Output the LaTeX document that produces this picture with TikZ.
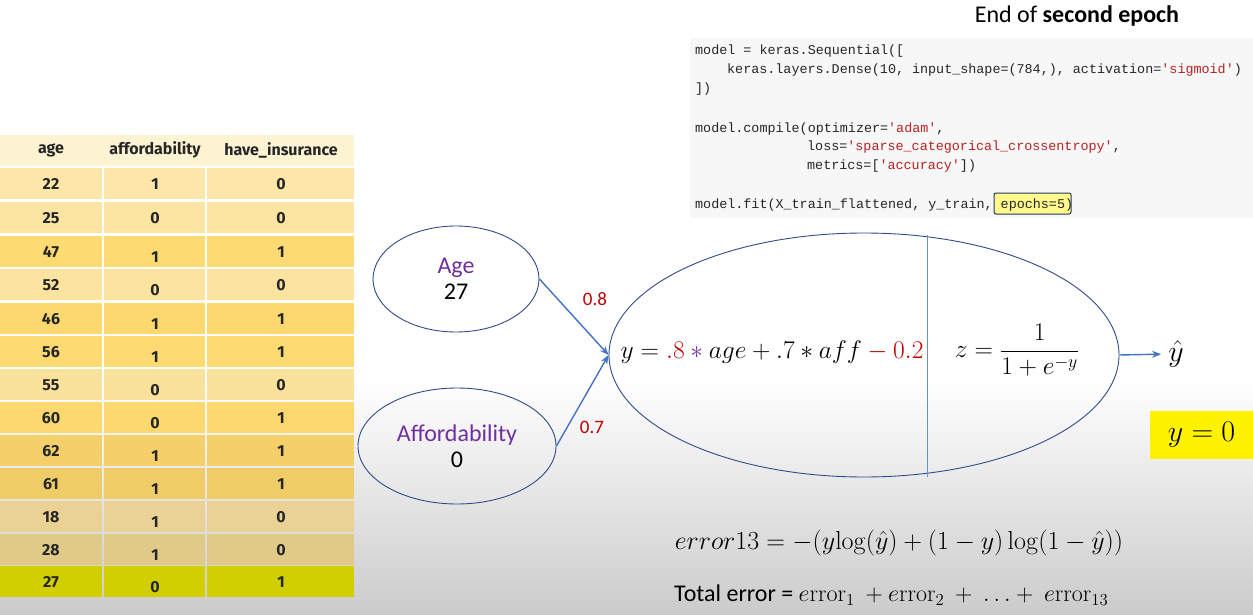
\RequirePackage{fix-cm}
\documentclass[tikz,border=0pt]{standalone}
\usepackage[no-math]{fontspec}
\setmainfont{Carlito}
\setmonofont{Liberation Mono}
\newfontfamily\tabfont{Fira Sans}
\usetikzlibrary{shapes.geometric,arrows.meta}
\definecolor{bgbot}{HTML}{CBCBCB}
\definecolor{hdr}{HTML}{FCF3D3}
\definecolor{rA}{HTML}{FCE7A8}
\definecolor{rA2}{HTML}{FCE5A3}
\definecolor{rB}{HTML}{FDDA72}
\definecolor{rC}{HTML}{FCE39F}
\definecolor{rB2}{HTML}{FDD86E}
\definecolor{rC2}{HTML}{FBE29C}
\definecolor{rD}{HTML}{F5D06A}
\definecolor{rE}{HTML}{EFCC66}
\definecolor{rF}{HTML}{E9D294}
\definecolor{rG}{HTML}{E0CA88}
\definecolor{rH}{HTML}{D2CF00}
\definecolor{codebg}{HTML}{F7F7F7}
\definecolor{str}{HTML}{BA2121}
\definecolor{edgeblue}{HTML}{4472C4}
\definecolor{ellblue}{HTML}{2F4B8C}
\definecolor{purp}{HTML}{7030A0}
\definecolor{wred}{HTML}{C00000}
\definecolor{boxblue}{HTML}{1F3864}
\tikzset{
  cell/.style={font=\tabfont\bfseries\fontsize{16}{18}\selectfont, text=black!85, inner sep=0pt},
  codeline/.style={anchor=base west, font=\ttfamily\fontsize{13.4}{15}\selectfont, text=black!85, inner sep=0pt},
  inell/.style={ellipse, draw=ellblue, line width=0.9pt, inner sep=0pt, align=center, font=\fontsize{24}{29}\selectfont},
  conn/.style={draw=edgeblue, line width=1.4pt, -{Stealth[length=9pt,width=7pt]}},
  wlabel/.style={text=wred, font=\fontsize{19}{22}\selectfont, inner sep=0pt},
  mathbig/.style={inner sep=0pt, font=\fontsize{25.5}{30}\selectfont}
}
\begin{document}
\begin{tikzpicture}[x=1pt,y=-1pt]
\useasboundingbox (0,0) rectangle (1253,615);
\fill[white] (0,0) rectangle (1253,385);
\shade[top color=white,bottom color=bgbot] (0,380) rectangle (1253,615);

% table header
\fill[hdr] (0,135) rectangle (354,166);
\node[cell] (h1) at (51,150) {age};
\node[cell] (h2) at (155,150) {affordability};
\node[cell] (h3) at (281,150) {have\_insurance};
% table rows
\foreach \a/\b/\c/\yy/\col [count=\i] in {22/1/0/184/rA, 25/0/0/218/rA2, 47/1/1/252/rB, 52/0/0/285/rC, 46/1/1/319/rB2, 56/1/1/352/rB, 55/0/0/385/rC2, 60/0/1/418/rB2, 62/1/1/451/rD, 61/1/1/484/rE, 18/1/0/517/rF, 28/1/0/550/rG, 27/0/1/582/rH}{
  \pgfmathsetmacro{\off}{\i>2 ? 5 : 0}
  \fill[\col] (0,\yy-16) rectangle (102,\yy+15);
  \fill[\col] (104,\yy-16) rectangle (205,\yy+15);
  \fill[\col] (207,\yy-16) rectangle (354,\yy+15);
  \node[cell] (a\i) at (51,\yy) {\a};
  \node[cell] (b\i) at (155,\yy+\off) {\b};
  \node[cell] (c\i) at (281,\yy) {\c};
}

% title
\node[font=\fontsize{24}{28}\selectfont, inner sep=0pt] (title) at (1077,16) {End of \textbf{second epoch}};

% code block
\fill[codebg] (690,38) rectangle (1253,218);
\node[draw=boxblue, fill=yellow!45, rounded corners=2pt, line width=1pt, minimum width=77pt, minimum height=21pt, inner sep=0pt] (epochbox) at (1032.5,203.5) {};
\node[codeline] (l1) at (695,55) {model = keras.Sequential([};
\node[codeline] (l2) at (727,74) {keras.layers.Dense(10, input\_shape=(784,), activation=\textcolor{str}{'sigmoid'})};
\node[codeline] (l3) at (695,93) {])};
\node[codeline] (l4) at (695,132) {model.compile(optimizer=\textcolor{str}{'adam'},};
\node[codeline] (l5) at (807,151) {loss=\textcolor{str}{'sparse\_categorical\_crossentropy'},};
\node[codeline] (l6) at (807,170) {metrics=[\textcolor{str}{'accuracy'}])};
\node[codeline] (l7) at (695,208) {model.fit(X\_train\_flattened, y\_train, epochs=5)};

% input nodes
\node[inell, minimum width=166pt, minimum height=106pt] (age) at (456,279)
  {\textcolor{purp}{Age}\\[-3pt]27};
\node[inell, minimum width=198pt, minimum height=116pt] (aff) at (457,446)
  {\textcolor{purp}{Affordability}\\[-3pt]0};

% neuron
\node[ellipse, draw=ellblue, line width=0.9pt, minimum width=510pt, minimum height=244pt, inner sep=0pt] (neuron) at (864,355) {};
\draw[edgeblue!80, line width=0.7pt] (927,235) -- (927,477);
\node[mathbig] (eq1) at (772,352)
  {$y = \textcolor{wred}{.8} \mathbin{\textcolor{purp}{\ast}} age + .7 \ast aff \mathbin{\textcolor{wred}{-}} \textcolor{wred}{0.2}$};
\node[mathbig] (eq2) at (1017,350) {$\displaystyle z = \frac{1}{1+e^{-y}}$};

% connectors
\draw[conn] (age.east) -- (neuron.west);
\draw[conn] (aff.east) -- (neuron.west);
\node[wlabel] (w1) at (595,299) {0.8};
\node[wlabel] (w2) at (592,427) {0.7};

\node[inner sep=0pt, font=\fontsize{30}{34}\selectfont] (yhat) at (1176,354) {$\hat{y}$};
\draw[conn, shorten >=7pt] (neuron.east) -- (yhat.west);

\node[fill=yellow, minimum width=103pt, minimum height=48pt, inner sep=0pt, font=\fontsize{30}{34}\selectfont] (ytrue) at (1201.5,435) {$y = 0$};

% bottom formulas
\node[inner sep=0pt, font=\fontsize{26}{30}\selectfont] (err) at (899,543)
  {$error13 = -(y\mathrm{log}(\hat{y}) + (1-y)\log(1-\hat{y}))$};
\node[inner sep=0pt, anchor=west, font=\fontsize{24}{28}\selectfont] (tot) at (674,595)
  {Total error = $e\mathrm{rror}_1\ + e\mathrm{rror}_2\ +\ \ldots +\ e\mathrm{rror}_{13}$};
\end{tikzpicture}
\end{document}
